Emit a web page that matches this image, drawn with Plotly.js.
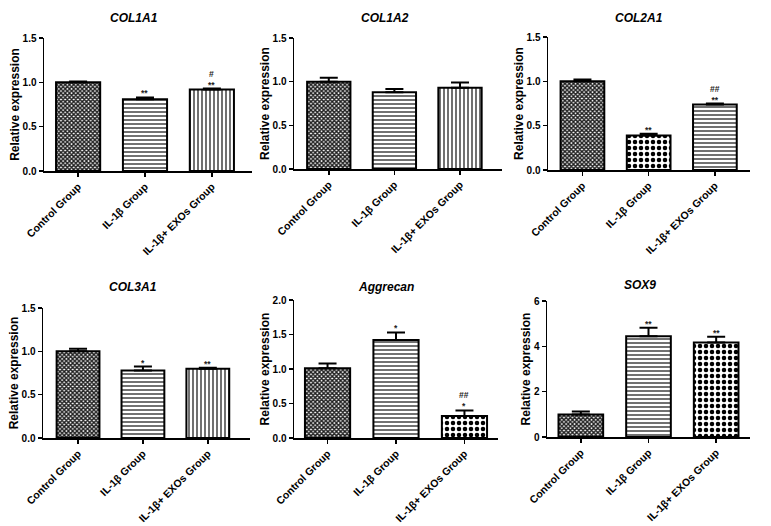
<!DOCTYPE html>
<html><head><meta charset="utf-8">
<script src="https://cdn.plot.ly/plotly-3.0.1.min.js"></script>
<style>html,body{margin:0;padding:0;background:#fff}#chart{width:771px;height:526px}</style>
</head><body><div id="chart"></div>
<script>
// ---- data ----
const groups = ["Control Group", "IL-1β Group", "IL-1β+ EXOs Group"];
const genes = ["COL1A1", "COL1A2", "COL2A1", "COL3A1", "Aggrecan", "SOX9"];

const col1a1Mean = [1.00, 0.81, 0.92];
const col1a1Err  = [0.01, 0.02, 0.01];
const col1a2Mean = [1.00, 0.88, 0.93];
const col1a2Err  = [0.045, 0.035, 0.06];
const col2a1Mean = [1.00, 0.39, 0.74];
const col2a1Err  = [0.02, 0.02, 0.01];
const col3a1Mean = [1.00, 0.78, 0.80];
const col3a1Err  = [0.03, 0.045, 0.01];
const aggrecanMean = [1.01, 1.42, 0.32];
const aggrecanErr  = [0.07, 0.11, 0.08];
const sox9Mean = [0.99, 4.45, 4.17];
const sox9Err  = [0.14, 0.37, 0.25];

// significance vs control (*) and vs IL-1β (#)
const col1a1Star = ["", "**", "**"];  const col1a1Hash = ["", "", "#"];
const col1a2Star = ["", "", ""];      const col1a2Hash = ["", "", ""];
const col2a1Star = ["", "**", "**"];  const col2a1Hash = ["", "", "##"];
const col3a1Star = ["", "*", "**"];   const col3a1Hash = ["", "", ""];
const aggrecanStar = ["", "*", "*"];  const aggrecanHash = ["", "", "##"];
const sox9Star = ["", "**", "**"];    const sox9Hash = ["", "", ""];

const yMax = [1.5, 1.5, 1.5, 1.5, 2.0, 6];
const yStep = [0.5, 0.5, 0.5, 0.5, 0.5, 2];

// ---- presentation ----
const W = 771, H = 526;
const FONT = "Liberation Sans, Arial, sans-serif";
const panels = [
  {mean: col1a1Mean, err: col1a1Err, star: col1a1Star, hash: col1a1Hash, px: [44, 252], py: [38, 171], xr: [-0.51, 2.6], pat: ["fine", "hline", "vline"], title: [134, 18]},
  {mean: col1a2Mean, err: col1a2Err, star: col1a2Star, hash: col1a2Hash, px: [294, 502], py: [38, 169], xr: [-0.53, 2.64], pat: ["fine", "hline", "vline"], title: [385, 18]},
  {mean: col2a1Mean, err: col2a1Err, star: col2a1Star, hash: col2a1Hash, px: [548, 750], py: [37, 170], xr: [-0.52, 2.53], pat: ["fine", "coarse", "hline"], title: [639, 18]},
  {mean: col3a1Mean, err: col3a1Err, star: col3a1Star, hash: col3a1Hash, px: [43, 250], py: [308, 438], xr: [-0.54, 2.65], pat: ["fine", "hline", "vline"], title: [133, 287]},
  {mean: aggrecanMean, err: aggrecanErr, star: aggrecanStar, hash: aggrecanHash, px: [294, 498], py: [300, 438], xr: [-0.49, 2.49], pat: ["fine", "hline", "coarse"], title: [386, 287]},
  {mean: sox9Mean, err: sox9Err, star: sox9Star, hash: sox9Hash, px: [547, 750], py: [301, 437], xr: [-0.5, 2.5], pat: ["fine", "hline", "coarse"], title: [640, 285]}
];
const PAT = {
  fine:   {shape: "x", size: 3, solidity: 0.7, fg: "#1e1e1e"},
  hline:  {shape: "-", size: 4, solidity: 0.35, fg: "#333333"},
  vline:  {shape: "|", size: 4, solidity: 0.35, fg: "#333333"},
  coarse: {shape: ".", size: 6, solidity: 0.45, fg: "#000000"}
};

const traces = [];
const layout = {
  width: W, height: H,
  margin: {l: 0, r: 0, t: 0, b: 0},
  paper_bgcolor: "#fff", plot_bgcolor: "rgba(0,0,0,0)",
  showlegend: false,
  font: {family: FONT, color: "#000"},
  annotations: []
};

panels.forEach((p, i) => {
  const n = i === 0 ? "" : String(i + 1);
  const xa = "x" + n, ya = "y" + n;
  traces.push({
    type: "bar",
    x: [0, 1, 2],
    y: p.mean,
    width: 0.66,
    xaxis: xa, yaxis: ya,
    marker: {
      color: "#fff",
      line: {color: "#000", width: 2},
      pattern: {
        shape: p.pat.map(k => PAT[k].shape),
        size: p.pat.map(k => PAT[k].size),
        solidity: p.pat.map(k => PAT[k].solidity),
        fgcolor: p.pat.map(k => PAT[k].fg),
        bgcolor: "#fff",
        fillmode: "replace"
      }
    },
    error_y: {type: "data", symmetric: false, array: p.err, arrayminus: p.err.map(() => 0),
              color: "#000", thickness: 2, width: 9},
    hoverinfo: "skip"
  });
  layout["xaxis" + n] = {
    domain: [p.px[0] / W, p.px[1] / W],
    range: p.xr, anchor: ya,
    tickmode: "array", tickvals: [0, 1, 2], ticktext: groups,
    tickangle: -45,
    tickfont: {family: FONT, size: 10.5, weight: "bold", color: "#000"},
    showline: true, linecolor: "#000", linewidth: 1.5,
    ticks: "outside", ticklen: 4, tickwidth: 1.5, tickcolor: "#000",
    showgrid: false, zeroline: false, automargin: false, fixedrange: true
  };
  layout["yaxis" + n] = {
    domain: [1 - p.py[1] / H, 1 - p.py[0] / H],
    range: [0, yMax[i]], anchor: xa,
    dtick: yStep[i], tick0: 0,
    tickformat: yMax[i] > 2 ? "d" : ".1f",
    tickfont: {family: FONT, size: 10, weight: "bold", color: "#000"},
    showline: true, linecolor: "#000", linewidth: 1.5,
    ticks: "outside", ticklen: 4, tickwidth: 1.5, tickcolor: "#000",
    showgrid: false, zeroline: false, automargin: false, fixedrange: true,
    title: {text: "Relative expression", font: {family: FONT, size: 12, weight: "bold", color: "#000"}, standoff: 0}
  };
  layout.annotations.push({
    xref: "paper", yref: "paper", x: p.title[0] / W, y: 1 - p.title[1] / H,
    xanchor: "center", yanchor: "middle", showarrow: false,
    text: genes[i],
    font: {family: FONT, size: 12, weight: "bold", style: "italic", color: "#000"}
  });
  p.mean.forEach((m, j) => {
    if (!p.star[j] && !p.hash[j]) return;
    const txt = p.hash[j] ? p.hash[j] + "<br>" + p.star[j] : p.star[j];
    layout.annotations.push({
      xref: xa, yref: ya, x: j, y: m + p.err[j], xanchor: "center", yanchor: "bottom",
      yshift: -3, showarrow: false, text: txt,
      font: {family: FONT, size: 8.5, weight: "bold", color: "#222"}
    });
  });
});

Plotly.newPlot("chart", traces, layout, {displayModeBar: false, staticPlot: true});
</script></body></html>
